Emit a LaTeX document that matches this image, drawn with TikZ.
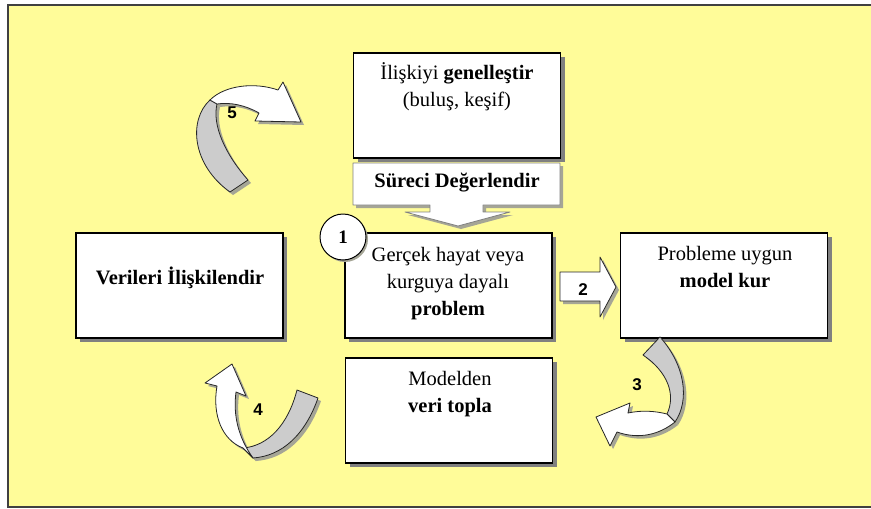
\documentclass[tikz,border=0pt]{standalone}
\usepackage{fontspec}
\setmainfont{Liberation Serif}
\newfontfamily\numfont{Liberation Sans}
\usetikzlibrary{shadows}
\definecolor{bgyellow}{RGB}{255,252,153}
\definecolor{bandgray}{RGB}{204,204,204}
\definecolor{shadowgray}{RGB}{128,128,128}
\definecolor{softshadow}{RGB}{165,165,150}
\tikzset{
  box/.style={draw=black, line width=1.3pt, fill=white, minimum width=207pt,
    minimum height=105pt, inner sep=0pt,
    drop shadow={shadow xshift=4pt, shadow yshift=-4pt, fill=shadowgray, opacity=1}},
  boxtext/.style={align=center, font=\fontsize{20.5}{27}\selectfont, inner sep=0pt},
  numlabel/.style={font=\numfont\bfseries\fontsize{17}{18}\selectfont, inner sep=0pt},
  outl/.style={draw=black!85, line width=0.8pt, line join=round},
  blockshadow/.style={drop shadow={shadow xshift=3pt, shadow yshift=-3pt, fill=softshadow, opacity=1}},
}
\newcommand\ArrowFiveParts[2]{%
  \path[#1] (230,192) -- (248,180) .. controls (225,154) and (212,125) .. (217,104)
    -- (210,100) .. controls (188,120) and (192,165) .. (230,192) -- cycle;
  \path[#2] (210,100) .. controls (225,85) and (255,82) .. (278,90) -- (283,82)
    -- (301,122) -- (255,121) -- (259,113) .. controls (245,105) and (230,102) .. (217,104) -- cycle;}
\newcommand\ArrowThreeParts[2]{%
  \path[#1] (643,355) -- (660,337) .. controls (685,365) and (690,400) .. (675,422)
    -- (667,414) .. controls (676,395) and (668,372) .. (643,355) -- cycle;
  \path[#2] (667,414) .. controls (655,411) and (642,410) .. (628,413) -- (630,403)
    -- (596,417) -- (610,446) -- (617,432) .. controls (640,440) and (660,434) .. (675,422) -- cycle;}
\newcommand\ArrowFourParts[2]{%
  \path[#1] (297,390) -- (318,398) .. controls (305,435) and (282,456) .. (253,458)
    -- (243,448) .. controls (268,446) and (288,425) .. (297,390) -- cycle;
  \path[#2] (243,448) .. controls (222,440) and (212,415) .. (217,386) -- (205,383)
    -- (232,364) -- (246,396) -- (236,392) .. controls (233,415) and (238,437) .. (253,458) -- cycle;}
\begin{document}
\begin{tikzpicture}[x=1pt,y=-1pt]
\useasboundingbox (0,0) rectangle (871,509);
\fill[white] (0,0) rectangle (871,509);
\path[fill=bgyellow, draw=black!75, line width=1.2pt] (8,5) rectangle (885,507);

% top box
\node[box] (gen) at (457,105.5) {};
\node[boxtext] (gentext) at (457,87) {İlişkiyi \textbf{genelleştir}\\(buluş, keşif)};

% evaluate callout
\path[fill=white, draw=black!50, line width=0.8pt, line join=round, blockshadow]
  (353,163) -- (560,163) -- (560,205) -- (483,205) -- (483,212) -- (510,212)
  -- (458,226) -- (405,212) -- (430,212) -- (430,205) -- (353,205) -- cycle;
\node[boxtext] (surec) at (457,183) {\textbf{Süreci Değerlendir}};

% problem box
\node[box] (prob) at (448.5,285.5) {};
\node[boxtext] (probtext) at (448,284) {Gerçek hayat veya\\kurguya dayalı\\\textbf{problem}};
\node[circle, draw=black, line width=1pt, fill=white, minimum size=46pt, inner sep=0pt,
  drop shadow={shadow xshift=2pt, shadow yshift=-2pt, fill=softshadow, opacity=1},
  font=\bfseries\fontsize{19}{20}\selectfont] (one) at (343,237) {1};

% model box
\node[box] (model) at (724,285.5) {};
\node[boxtext] (modeltext) at (725,267) {Probleme uygun\\\textbf{model kur}};

% data relate box
\node[box] (veri) at (179.5,285.5) {};
\node[boxtext] (veritext) at (180,278) {\textbf{Verileri İlişkilendir}};

% collect data box
\node[box] (topla) at (449,410.5) {};
\node[boxtext] (toplatext) at (450,394) {Modelden\\\textbf{veri topla}};

% arrow 2
\path[fill=white, outl, blockshadow] (560,272) -- (600,272) -- (600,257) -- (616,287)
  -- (600,317) -- (600,301) -- (560,301) -- cycle;
\node[numlabel] (n2) at (583,290) {2};

% curved arrows: shadows
\begin{scope}[shift={(3,3)}]
  \ArrowFiveParts{fill=softshadow}{fill=softshadow}
  \ArrowThreeParts{fill=softshadow}{fill=softshadow}
  \ArrowFourParts{fill=softshadow}{fill=softshadow}
\end{scope}
\ArrowFiveParts{fill=bandgray, outl}{fill=white, outl}
\ArrowThreeParts{fill=bandgray, outl}{fill=white, outl}
\ArrowFourParts{fill=bandgray, outl}{fill=white, outl}
\node[numlabel] (n5) at (232,113) {5};
\node[numlabel] (n3) at (637,385) {3};
\node[numlabel] (n4) at (258,410) {4};
\end{tikzpicture}
\end{document}
